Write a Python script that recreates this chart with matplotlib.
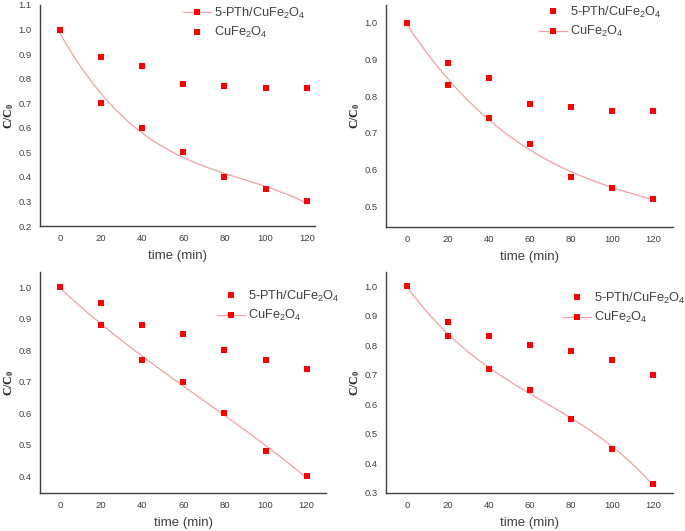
import numpy as np
import matplotlib
matplotlib.use("Agg")
import matplotlib.pyplot as plt

plt.rcParams['font.family'] = ['Liberation Sans', 'DejaVu Sans']
plt.rcParams['mathtext.default'] = 'regular'

# data
time = [0, 20, 40, 60, 80, 100, 120]

# panel a: lower series = 5-PTh/CuFe2O4 (with trend line)
a_low = [1.0, 0.70, 0.60, 0.50, 0.40, 0.35, 0.30]
a_up = [1.0, 0.89, 0.85, 0.78, 0.77, 0.76, 0.76]
# panel b
b_low = [1.0, 0.83, 0.74, 0.67, 0.58, 0.55, 0.52]
b_up = [1.0, 0.89, 0.85, 0.78, 0.77, 0.76, 0.76]
# panel c
c_low = [1.0, 0.88, 0.77, 0.70, 0.60, 0.48, 0.40]
c_up = [1.0, 0.95, 0.88, 0.85, 0.80, 0.77, 0.74]
# panel d
d_low = [1.0, 0.83, 0.72, 0.65, 0.55, 0.45, 0.33]
d_up = [1.0, 0.88, 0.83, 0.80, 0.78, 0.75, 0.70]

lbl_pth = '5-PTh/CuFe$_2$O$_4$'
lbl_cu = 'CuFe$_2$O$_4$'

W, H = 685, 531
fig = plt.figure(figsize=(W / 100, H / 100), dpi=100)

AX_COL = '#404040'
TXT_COL = '#404040'
RED = '#ff0000'
TREND = '#f3a0a0'

# (axes rect in px: left, top, right, bottom), xlim, ylim, yticks, legend anchor px, which label has the line
panels = [
    (a_low, a_up, (40, 5, 315, 226), (-9.7, 124), (0.2, 1.1), np.arange(0.2, 1.11, 0.1), (183, 23), 'pth'),
    (b_low, b_up, (386, 5, 673, 227), (-10.4, 129.7), (0.443, 1.049), np.arange(0.5, 1.01, 0.1), (539, 22), 'cu'),
    (c_low, c_up, (40, 272, 326, 493), (-9.7, 129.4), (0.346, 1.048), np.arange(0.4, 1.01, 0.1), (217, 306), 'cu'),
    (d_low, d_up, (386, 272, 673, 493), (-10.4, 129.7), (0.3, 1.048), np.arange(0.3, 1.01, 0.1), (563, 308), 'cu'),
]

for low, up, (l, t, r, b), xl, yl, yt, (lx, ly), line_on in panels:
    ax = fig.add_axes([l / W, 1 - b / H, (r - l) / W, (b - t) / H])

    # polynomial trend line through the lower series
    z = np.polyfit(time, low, 3)
    p = np.poly1d(z)
    xs = np.linspace(0, 120, 200)
    trend, = ax.plot(xs, p(xs), color=TREND, lw=0.9, zorder=2)

    up_pts, = ax.plot(time, up, 's', color=RED, ms=4, mew=0, zorder=3)
    low_pts, = ax.plot(time, low, 's', color=RED, ms=4, mew=0, zorder=3)

    ax.set_xlim(*xl)
    ax.set_ylim(*yl)
    ax.set_xticks(time)
    ax.set_yticks(yt)
    ax.set_yticklabels([f'{v:.1f}' for v in yt])

    for s in ['top', 'right']:
        ax.spines[s].set_visible(False)
    for s in ['left', 'bottom']:
        ax.spines[s].set_color(AX_COL)
        ax.spines[s].set_linewidth(1.0)
    ax.tick_params(length=0, labelsize=6.8, colors=TXT_COL)
    ax.tick_params(axis='x', pad=5.5)
    ax.tick_params(axis='y', pad=6)

    ax.set_xlabel('time (min)', fontsize=9.5, color=TXT_COL, labelpad=5)
    ax.set_ylabel('C/C$_0$', fontsize=8.5, family='Liberation Serif',
                  fontweight='bold', color='#222222', labelpad=1.5)

    if line_on == 'pth':
        handles = [(trend, low_pts), up_pts]
    else:
        handles = [up_pts, (trend, low_pts)]
    labels = [lbl_pth, lbl_cu]
    leg = ax.legend(handles, labels, loc='center left',
                    bbox_to_anchor=(lx / W, 1 - ly / H),
                    bbox_transform=fig.transFigure,
                    frameon=False, fontsize=9.2, borderpad=0, borderaxespad=0,
                    handlelength=2.2, handletextpad=0.25, labelspacing=0.35)
    for txt in leg.get_texts():
        txt.set_color(TXT_COL)

fig.savefig('out.png', dpi=100)
